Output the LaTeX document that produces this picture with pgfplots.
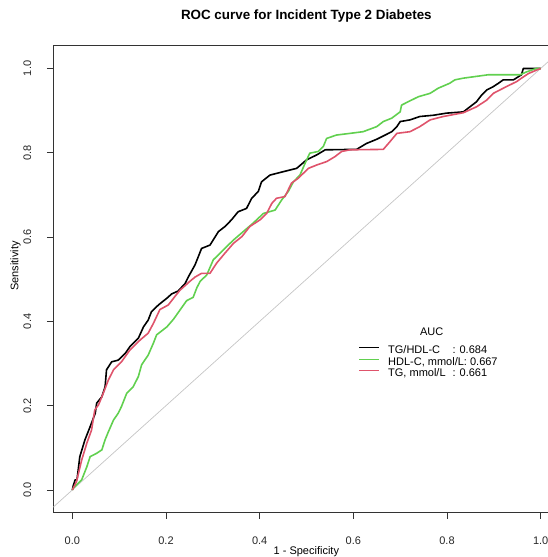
\documentclass[border=0pt]{standalone}
\usepackage{fontspec}
\setmainfont{Liberation Sans}
\usepackage{pgfplots}
\pgfplotsset{compat=1.18}
\usetikzlibrary{calc}
\definecolor{rocgreen}{HTML}{61D04F}
\definecolor{rocred}{HTML}{DF536B}
\definecolor{diagc}{HTML}{C4C4C4}
\definecolor{framec}{HTML}{333333}

\begin{document}
\begin{tikzpicture}
\begin{axis}[
  name=ax,
  scale only axis, width=506.1pt, height=466.6pt,
  xmin=-0.0406, xmax=1.04, ymin=-0.053, ymax=1.054,
  xtick={0,0.2,0.4,0.6,0.8,1}, ytick={0,0.2,0.4,0.6,0.8,1},
  xticklabels={0.0,0.2,0.4,0.6,0.8,1.0},
  yticklabels={0.0,0.2,0.4,0.6,0.8,1.0},
  xtick pos=lower, ytick pos=left,
  tick align=outside, major tick length=6.5pt,
  axis line style={draw=framec, line width=0.8pt},
  tick style={draw=framec, line width=0.8pt},
  ticklabel style={font=\fontsize{11}{13}\selectfont, text=black!85, inner sep=0pt},
  xticklabel style={anchor=north}, xticklabel shift=17.7pt,
  yticklabel style={rotate=90, anchor=south}, yticklabel shift=15.3pt,
  title={ROC curve for Incident Type 2 Diabetes},
  title style={at={(axis description cs:0.5,1.0427)}, anchor=base, inner sep=0pt,
    font=\bfseries\fontsize{13.4}{16}\selectfont},
  xlabel={1 - Specificity},
  xlabel style={at={(axis description cs:0.5,-0.0894)}, anchor=base, inner sep=0pt,
    font=\fontsize{11}{13}\selectfont},
  ylabel={Sensitivity},
  ylabel style={at={(axis description cs:-0.0747,0.528)}, anchor=center, inner sep=0pt,
    font=\fontsize{11}{13}\selectfont},
  legend style={at={(axis cs:0.6117,0.3433)}, anchor=north west, draw=none, fill=none,
    inner sep=0pt, row sep=0pt,
    nodes={inner sep=0pt, text height=7.9pt, text depth=3.8pt, font=\fontsize{11}{13}\selectfont},
    /tikz/every odd column/.append style={column sep=8.4pt}},
  legend cell align=left,
  legend image code/.code={\draw[#1, line width=0.8pt] (0pt,3.9pt) -- (20pt,3.9pt);},
]
% chance line
\addplot[diagc, line width=0.7pt, forget plot] coordinates {(-0.1,-0.1) (1.2,1.2)};

% TG/HDL-C
\addplot[black, line width=1.6pt, line join=round] coordinates {
(0,0) (0.002,0.010) (0.006,0.024) (0.010,0.024) (0.016,0.079) (0.027,0.119)
(0.038,0.150) (0.049,0.182) (0.052,0.206) (0.063,0.221) (0.070,0.245)
(0.073,0.285) (0.084,0.304) (0.098,0.308) (0.113,0.324) (0.123,0.340)
(0.141,0.360) (0.152,0.387) (0.162,0.403) (0.169,0.423) (0.184,0.439)
(0.202,0.455) (0.212,0.465) (0.226,0.472) (0.241,0.490) (0.248,0.506)
(0.262,0.534) (0.276,0.573) (0.294,0.581) (0.312,0.613) (0.326,0.625)
(0.340,0.641) (0.354,0.660) (0.372,0.668) (0.383,0.692) (0.397,0.708)
(0.404,0.731) (0.422,0.747) (0.450,0.755) (0.479,0.763) (0.500,0.783)
(0.522,0.795) (0.540,0.807) (0.607,0.808) (0.628,0.822) (0.650,0.832)
(0.668,0.842) (0.682,0.850) (0.693,0.862) (0.700,0.874) (0.721,0.878)
(0.742,0.886) (0.771,0.889) (0.799,0.894) (0.835,0.897) (0.849,0.909)
(0.863,0.921) (0.874,0.937) (0.885,0.949) (0.899,0.957) (0.910,0.965)
(0.920,0.973) (0.942,0.973) (0.959,0.985) (0.963,1.000) (1,1)};
\addlegendentry{\makebox[64.3pt][l]{TG/HDL-C}: 0.684}

% HDL-C
\addplot[rocgreen, line width=1.6pt, line join=round] coordinates {
(0,0) (0.002,0.004) (0.020,0.024) (0.031,0.055) (0.038,0.079) (0.052,0.087)
(0.063,0.095) (0.070,0.119) (0.077,0.138) (0.088,0.166) (0.098,0.182)
(0.105,0.198) (0.116,0.229) (0.130,0.245) (0.141,0.269) (0.148,0.297)
(0.162,0.320) (0.173,0.348) (0.180,0.368) (0.202,0.387) (0.216,0.405)
(0.230,0.427) (0.244,0.449) (0.258,0.457) (0.266,0.480) (0.273,0.495)
(0.287,0.510) (0.301,0.546) (0.322,0.569) (0.344,0.593) (0.365,0.613)
(0.386,0.633) (0.408,0.656) (0.433,0.664) (0.447,0.688) (0.461,0.708)
(0.472,0.731) (0.486,0.747) (0.497,0.775) (0.507,0.799) (0.525,0.803)
(0.536,0.815) (0.543,0.834) (0.564,0.842) (0.593,0.846) (0.621,0.850)
(0.650,0.862) (0.664,0.874) (0.682,0.882) (0.700,0.897) (0.703,0.913)
(0.717,0.921) (0.739,0.933) (0.764,0.941) (0.781,0.953) (0.806,0.965)
(0.817,0.973) (0.835,0.977) (0.888,0.985) (0.956,0.985) (0.970,0.992)
(0.991,1.000) (1,1)};
\addlegendentry{HDL-C, mmol/L: 0.667}

% TG
\addplot[rocred, line width=1.6pt, line join=round] coordinates {
(0,0) (0.009,0.020) (0.020,0.071) (0.031,0.111) (0.041,0.142) (0.048,0.190)
(0.056,0.202) (0.066,0.229) (0.077,0.261) (0.088,0.285) (0.105,0.304)
(0.123,0.332) (0.145,0.356) (0.162,0.372) (0.173,0.395) (0.187,0.428)
(0.205,0.439) (0.219,0.459) (0.230,0.474) (0.251,0.495) (0.262,0.505)
(0.276,0.514) (0.294,0.514) (0.308,0.538) (0.326,0.562) (0.344,0.585)
(0.362,0.601) (0.379,0.625) (0.401,0.641) (0.415,0.656) (0.426,0.680)
(0.436,0.692) (0.454,0.696) (0.468,0.728) (0.483,0.740) (0.493,0.751)
(0.504,0.763) (0.522,0.771) (0.543,0.779) (0.561,0.791) (0.575,0.803)
(0.593,0.807) (0.664,0.808) (0.678,0.826) (0.693,0.846) (0.721,0.850)
(0.742,0.862) (0.764,0.878) (0.792,0.886) (0.835,0.895) (0.863,0.909)
(0.885,0.925) (0.899,0.941) (0.913,0.949) (0.927,0.957) (0.949,0.969)
(0.959,0.977) (0.974,0.988) (0.991,0.996) (1,1)};
\addlegendentry{\makebox[64.3pt][l]{TG, mmol/L}: 0.661}

\node[font=\fontsize{11}{13}\selectfont, anchor=center] at (axis cs:0.7673,0.3756) {AUC};
\end{axis}
\pgfresetboundingbox
\path[use as bounding box] ($(ax.south west)+(-53.3pt,-44.7pt)$) rectangle ($(ax.north west)+(494.7pt,45.7pt)$);
\end{tikzpicture}
\end{document}
